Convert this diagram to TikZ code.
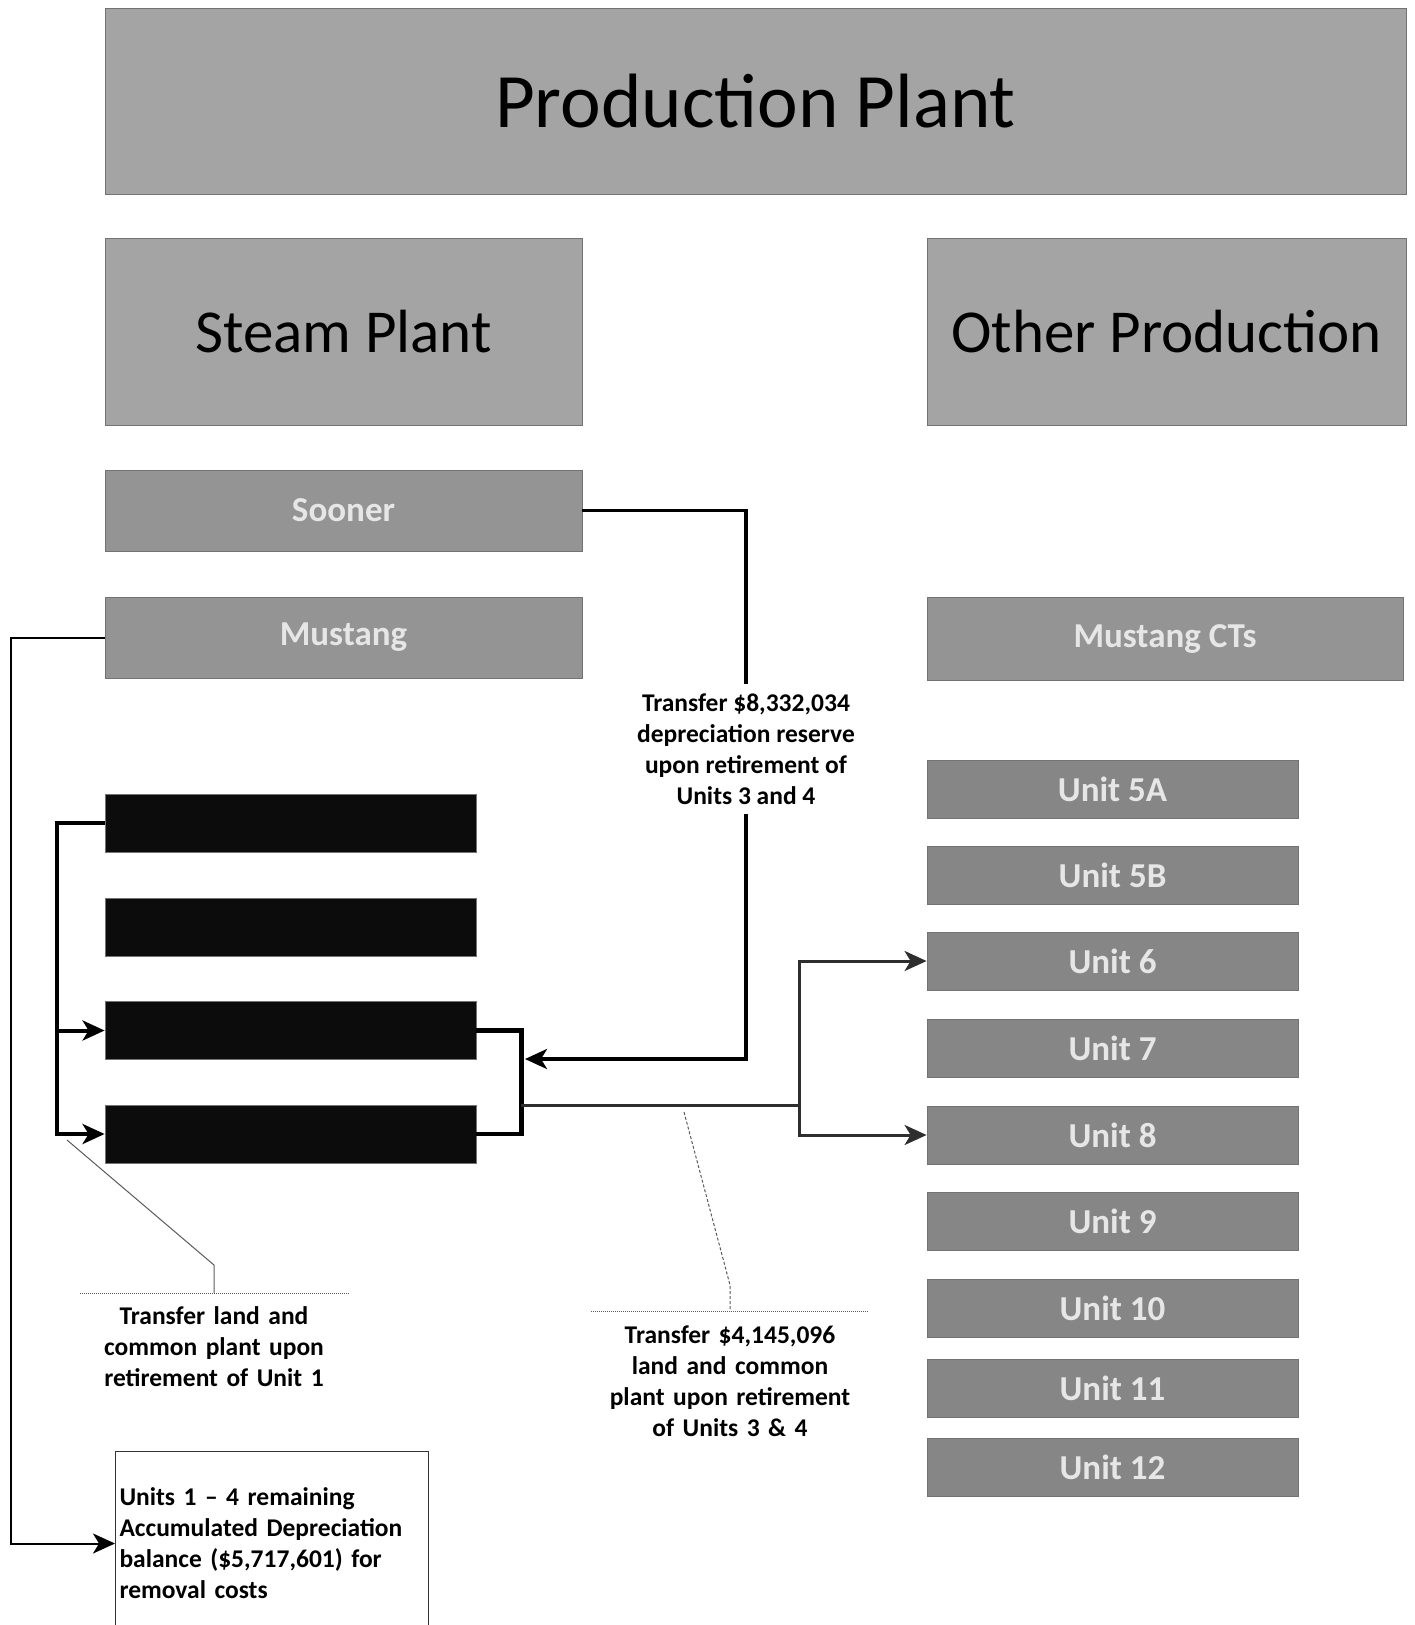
\documentclass[tikz,border=0pt]{standalone}
\usepackage{fontspec}
\setmainfont{Carlito}
\usetikzlibrary{arrows.meta, calc, positioning}
\definecolor{headGrey}{HTML}{A4A4A4}
\definecolor{siteGrey}{HTML}{949494}
\definecolor{unitGrey}{HTML}{868686}
\definecolor{retiredBlack}{HTML}{0C0C0C}
\definecolor{wireGrey}{HTML}{2E2E2E}
\definecolor{leaderGrey}{HTML}{5A5A5A}
\definecolor{labelPale}{HTML}{E6E6E6}

\begin{document}
\begin{tikzpicture}[
  x=1pt, y=-1pt,
  panel/.style={rectangle, draw=black!55, line width=0.8pt, fill=#1, inner sep=0pt, align=center},
  headbox/.style={panel=headGrey, font=\fontsize{61}{70}\selectfont},
  sitebox/.style={panel=siteGrey, minimum width=477pt, minimum height=81pt,
    font=\fontsize{35}{40}\selectfont\bfseries, text=labelPale},
  unitbox/.style={panel=unitGrey, minimum width=371pt, minimum height=58pt,
    font=\fontsize{35}{40}\selectfont\bfseries, text=labelPale},
  retired/.style={panel=retiredBlack, minimum width=371pt, minimum height=58pt},
  note/.style={font=\fontsize{25.5}{31}\selectfont\bfseries, align=center, inner xsep=2pt},
  flow/.style={-{Stealth[length=22pt, width=20pt, inset=6pt]}, line width=#1},
  wire/.style={line width=#1, line join=miter},
  leader/.style={draw=leaderGrey, line width=1pt},
  rule/.style={draw=leaderGrey, line width=1pt, densely dotted},
]
\useasboundingbox (0,0) rectangle (1414,1625);

\node[headbox, minimum width=1301pt, minimum height=186pt, font=\fontsize{77}{90}\selectfont]
  at (755.5,101) (prod) {Production Plant};
\node[headbox, minimum width=477pt, minimum height=187pt] at (343.5,331.5) (steam) {Steam Plant};
\node[headbox, minimum width=479pt, minimum height=187pt] at (1166.5,331.5) (other) {Other Production};

\node[sitebox] at (343.5,510.5) (sooner)  {Sooner};
\node[sitebox] at (343.5,637.5) (mustang) {Mustang};
\node[sitebox, minimum width=476pt, minimum height=83pt] at (1165,638.5) (mustangCT) {Mustang CTs};

\node[retired] at (290.5,823)    (unit1) {};
\node[retired] at (290.5,927)    (unit2) {};
\node[retired] at (290.5,1030.5) (unit3) {};
\node[retired] at (290.5,1134)   (unit4) {};

% combustion units, top to bottom
\node[unitbox] at (1112.5,789)  (unit5A) {Unit 5A};
\node[unitbox] at (1112.5,875)  (unit5B) {Unit 5B};
\node[unitbox] at (1112.5,961)  (unit6)  {Unit 6};
\node[unitbox] at (1112.5,1048) (unit7)  {Unit 7};
\node[unitbox] at (1112.5,1135) (unit8)  {Unit 8};
\node[unitbox] at (1112.5,1221) (unit9)  {Unit 9};
\node[unitbox] at (1112.5,1308) (unit10) {Unit 10};
\node[unitbox] at (1112.5,1388) (unit11) {Unit 11};
\node[unitbox] at (1112.5,1467) (unit12) {Unit 12};

\node[draw=black!80, line width=1pt, anchor=north west, minimum width=313pt, minimum height=184pt,
      text width=305pt, inner xsep=2pt, align=left, font=\fontsize{25.5}{31}\selectfont\bfseries]
  at (115,1451) (removal)
  {Units 1 -- 4 remaining\\ Accumulated Depreciation\\ balance (\$5,717,601) for\\ removal costs};

\node[note, minimum height=130pt, inner ysep=0pt] at (746,749) (lblReserve)
  {Transfer \$8,332,034\\ depreciation reserve\\ upon retirement of\\ Units 3 and 4};

\coordinate (spineTop)    at ($(unit1.west)+(-48,0)$);
\coordinate (bracketTop)  at ($(unit3.east)+(45,0)$);
\coordinate (bracketTap)  at (521,1105);
\coordinate (fork)        at (799,1105);
\coordinate (reserveTurn) at (746,1059);
\coordinate (reserveTip)  at (525,1059);

\draw[flow=2pt] (mustang.west) -- ++(-94,0) |- (removal.west);
\draw[flow=4pt] (unit1.west) -- (spineTop) |- (unit4.west);
\draw[flow=4pt] (spineTop |- unit3.west) -- (unit3.west);
\draw[wire=4.5pt] (unit3.east) -- (bracketTop) |- (unit4.east);
\draw[wire=3.5pt] (sooner.east) -| (lblReserve.north);
\draw[flow=3.5pt] (lblReserve.south) -- (reserveTurn) -- (reserveTip);
\draw[wire=3pt, draw=wireGrey] (bracketTap) -- (fork);
\draw[flow=3pt, draw=wireGrey] (fork) |- (unit6.west);
\draw[flow=3pt, draw=wireGrey] (fork) |- (unit8.west);

\coordinate (retireTap)  at (67,1140);
\coordinate (retireBend) at (214,1265);
\node[note, anchor=north, text width=264pt, inner ysep=13pt] at (214,1293) (lblRetire)
  {Transfer land and\\ common plant upon\\ retirement of Unit 1};
\draw[leader] (retireTap) -- (retireBend) -- (lblRetire.north);
\draw[rule] (lblRetire.north west) -- (lblRetire.north east);

\coordinate (landTap)  at (684,1112);
\coordinate (landBend) at (730,1285);
\node[note, anchor=north, text width=273pt, inner ysep=15pt] at (730,1311) (lblLand)
  {Transfer \$4,145,096\\ land and common\\ plant upon retirement\\ of Units 3 \& 4};
\draw[leader, densely dashed] (landTap) -- (landBend) -- (lblLand.north);
\draw[rule] (lblLand.north west) -- (lblLand.north east);

\end{tikzpicture}
\end{document}
